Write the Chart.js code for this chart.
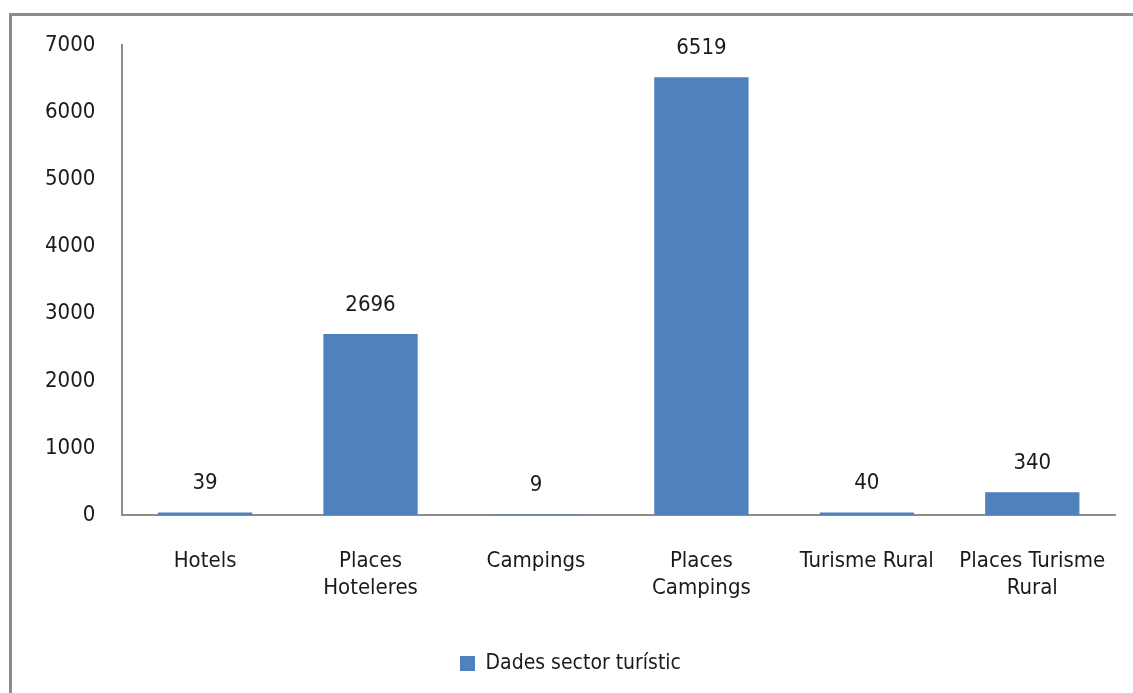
<!DOCTYPE html>
<html>
<head>
<meta charset="utf-8">
<script src="https://cdn.jsdelivr.net/npm/chart.js@4"></script>
<style>
  html, body { margin: 0; padding: 0; background: #fff; }
  #wrap { position: relative; width: 1133px; height: 693px; }
  #frame { position: absolute; left: 9px; top: 13px; width: 1200px; height: 800px;
           border-top: 3px solid #8c8c8c; border-left: 3px solid #8c8c8c; }
  canvas { position: absolute; left: 0; top: 0; }
</style>
</head>
<body>
<div id="wrap">
  <div id="frame"></div>
  <canvas id="chart" width="1133" height="693"></canvas>
</div>
<script>
const categories = ['Hotels', ['Places', 'Hoteleres'], 'Campings', ['Places', 'Campings'], 'Turisme Rural', ['Places Turisme', 'Rural']];
const values = [39, 2696, 9, 6519, 40, 340];
const seriesName = 'Dades sector turístic';

const fontFamily = "'Liberation Sans Narrow', 'DejaVu Sans Condensed', 'Liberation Sans', sans-serif";
const textColor = '#1a1a1a';
const barColor = '#4f81bd';

// value labels above each bar
const valueLabels = {
    id: 'valueLabels',
    afterDatasetsDraw(chart) {
        const ctx = chart.ctx;
        ctx.save();
        ctx.font = '22px ' + fontFamily;
        ctx.fillStyle = textColor;
        ctx.textAlign = 'center';
        ctx.textBaseline = 'middle';
        chart.getDatasetMeta(0).data.forEach((bar, i) => {
            ctx.fillText(values[i], bar.x, bar.y - 29);
        });
        ctx.restore();
    }
};

Chart.defaults.font.family = fontFamily;
Chart.defaults.font.size = 22;
Chart.defaults.color = textColor;

new Chart(document.getElementById('chart').getContext('2d'), {
    type: 'bar',
    data: {
        labels: categories,
        datasets: [{
            label: seriesName,
            data: values,
            backgroundColor: barColor,
            categoryPercentage: 1,
            barPercentage: 0.57
        }]
    },
    options: {
        responsive: false,
        animation: false,
        layout: { padding: { left: 26, right: 18, top: 45, bottom: 9 } },
        plugins: {
            legend: {
                position: 'bottom',
                labels: { boxWidth: 15, boxHeight: 15, padding: 10, font: { size: 21 } }
            },
            tooltip: { enabled: false }
        },
        scales: {
            x: {
                grid: { display: false },
                border: { display: true, color: '#8c8c8c', width: 2 },
                ticks: { padding: 25, maxRotation: 0, autoSkip: false },
                afterFit(scale) { scale.height += 17; }
            },
            y: {
                min: 0, max: 7000,
                grid: { display: false },
                border: { display: true, color: '#8c8c8c', width: 2 },
                ticks: { stepSize: 1000, padding: 19, callback: v => String(v) }
            }
        }
    },
    plugins: [valueLabels]
});
</script>
</body>
</html>
